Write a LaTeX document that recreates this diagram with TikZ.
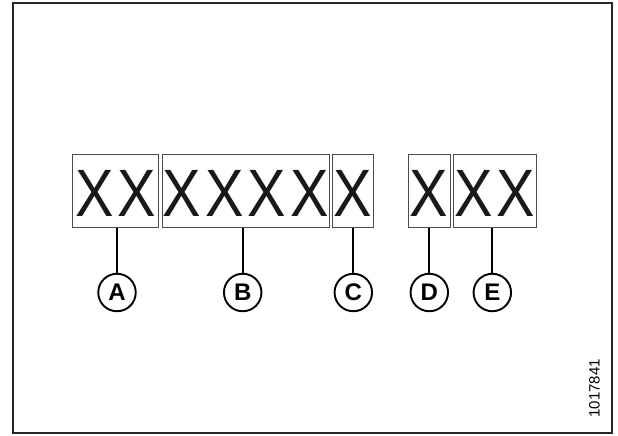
\documentclass[tikz,border=0pt]{standalone}
\usepackage{fontspec}
\setmainfont{Liberation Sans}
\newfontfamily\bigxfont[FakeStretch=0.86]{Liberation Sans}
\begin{document}
\begin{tikzpicture}[x=1pt,y=-1pt,
  frame/.style={draw=black!85, line width=2pt},
  xbox/.style={draw=black!70, line width=0.8pt, inner sep=0pt,
    minimum height=73.5pt, text height=51pt, text depth=0pt,
    font=\bigxfont\fontsize{67}{67}\selectfont, text=black!90},
  callout/.style={circle, draw=black, line width=1.9pt, minimum size=37.5pt,
    inner sep=0pt, font=\bfseries\fontsize{24}{24}\selectfont},
  leader/.style={draw=black, line width=1.8pt}]
\useasboundingbox (0,0) rectangle (618,436);
\draw[frame] (12.5,3) rectangle (612,433);
% boxes
\node[xbox, minimum width=86pt] (bA) at (115.5,190.75) {X\kern4pt X};
\node[xbox, minimum width=167.3pt] (bB) at (245.7,190.75) {X\kern4pt X\kern4pt X\kern4pt X};
\node[xbox, minimum width=40.8pt] (bC) at (352.9,190.75) {X};
\node[xbox, minimum width=41.7pt] (bD) at (429.2,190.75) {X};
\node[xbox, minimum width=83.4pt] (bE) at (495,190.75) {X\kern4pt X};
% callouts
\node[callout] (cA) at (117,292.5) {A};
\node[callout] (cB) at (242.7,292.5) {B};
\node[callout] (cC) at (353.3,292.5) {C};
\node[callout] (cD) at (429.3,292.5) {D};
\node[callout] (cE) at (492.3,292.5) {E};
% leaders
\foreach \n in {A,B,C,D,E}{
  \draw[leader] (c\n.north) -- (c\n.north |- b\n.south);
}
\node[rotate=90, inner sep=0pt, font=\fontsize{15}{15}\selectfont] (num) at (594.5,388.3) {1017841};
\end{tikzpicture}
\end{document}
